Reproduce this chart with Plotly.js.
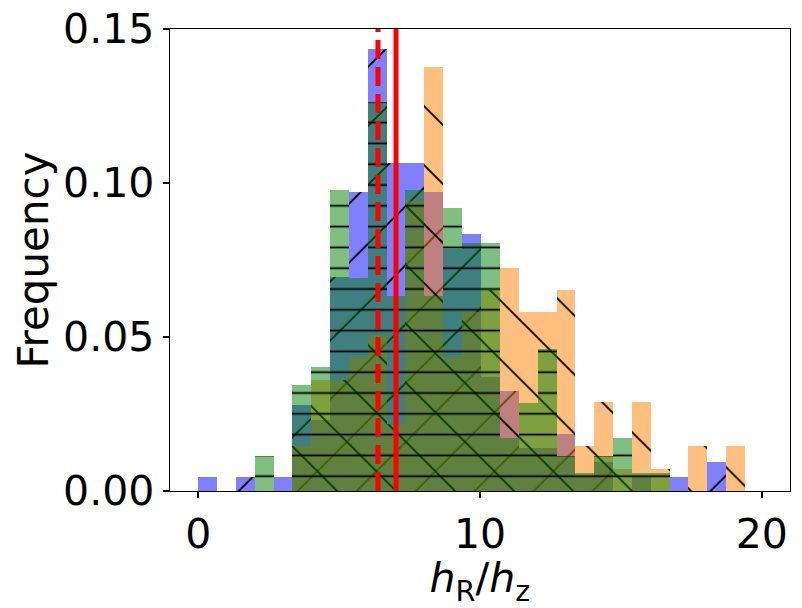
<!DOCTYPE html>
<html>
<head>
<meta charset="utf-8">
<script src="https://cdn.plot.ly/plotly-3.0.1.min.js"></script>
<style>
  html, body { margin: 0; padding: 0; background: #fff; }
  #chart { width: 802px; height: 608px; }
</style>
</head>
<body>
<div id="chart"></div>
<script>
// histogram bins (centres), shared by the three samples
const binCenters = [0.33, 1.00, 1.67, 2.34, 3.01, 3.68, 4.35, 5.02, 5.69, 6.36,
                    7.02, 7.69, 8.36, 9.03, 9.70, 10.37, 11.04, 11.71, 12.38, 13.05,
                    13.71, 14.38, 15.05, 15.72, 16.39, 17.06, 17.73, 18.40, 19.07];
const binWidth = 0.669;

// frequencies
const freqBlue   = [0.0046, 0, 0.0046, 0, 0.0046, 0.0278, 0.0231, 0.0694, 0.0972, 0.1435,
                    0.1065, 0.1065, 0.0972, 0.0787, 0.0833, 0.0370, 0.0324, 0.0139, 0.0139, 0.0185,
                    0.0046, 0.0093, 0, 0.0046, 0, 0.0046, 0, 0.0093, 0];
const freqOrange = [0, 0, 0, 0, 0, 0.0145, 0.0362, 0.0362, 0.0435, 0.0507,
                    0.0217, 0.0942, 0.1377, 0.0435, 0.0580, 0.0652, 0.0725, 0.0580, 0.0580, 0.0652,
                    0.0145, 0.0290, 0.0072, 0.0290, 0.0072, 0, 0.0145, 0, 0.0145];
const freqGreen  = [0, 0, 0, 0.0115, 0, 0.0345, 0.0402, 0.0977, 0.0690, 0.1264,
                    0.0632, 0.0977, 0.0632, 0.0920, 0.0805, 0.0805, 0.0172, 0.0287, 0.0460, 0.0115,
                    0.0057, 0.0115, 0.0172, 0.0057, 0.0057, 0, 0, 0, 0];

// reference values marked by the red lines
const medianDashed = 6.38;
const medianSolid = 7.02;

const font = 'DejaVu Sans, sans-serif';

function histTrace(y, rgba, shape, size, solidity) {
  return {
    type: 'bar', x: binCenters, y: y, width: binWidth,
    marker: {
      color: rgba,
      line: {width: 0},
      pattern: {shape: shape, size: size, solidity: solidity, fillmode: 'overlay',
                bgcolor: rgba, fgcolor: '#000', fgopacity: 1}
    },
    hoverinfo: 'x+y', showlegend: false
  };
}

const traces = [
  histTrace(freqBlue, 'rgba(0,0,255,0.5)', '/', 41.7, 0.045),
  histTrace(freqOrange, 'rgba(255,130,0,0.5)', '\\', 41.7, 0.045),
  histTrace(freqGreen, 'rgba(0,128,0,0.5)', '-', 20.8, 0.085)
];

const axisCommon = {
  showgrid: false, zeroline: false,
  showline: true, linecolor: '#000', linewidth: 1.4, mirror: true,
  ticks: 'outside', ticklen: 6, tickwidth: 1.4, tickcolor: '#000',
  tickfont: {family: font, size: 41, color: '#000'}
};

const layout = {
  width: 802, height: 608,
  margin: {l: 170, r: 12, t: 29, b: 117},
  paper_bgcolor: '#fff', plot_bgcolor: '#fff',
  barmode: 'overlay', bargap: 0,
  xaxis: Object.assign({}, axisCommon, {
    range: [-1, 21], tickvals: [0, 10, 20],
    title: {text: '<i>h</i><sub>R</sub>/<i>h</i><sub>z</sub>', font: {family: font, size: 41, color: '#000'}, standoff: 10}
  }),
  yaxis: Object.assign({}, axisCommon, {
    range: [0, 0.15], tickvals: [0, 0.05, 0.10, 0.15], tickformat: '.2f',
    title: {text: 'Frequency', font: {family: font, size: 42, color: '#000'}, standoff: 1}
  }),
  shapes: [
    {type: 'line', xref: 'x', yref: 'paper', x0: medianDashed, x1: medianDashed, y0: 0, y1: 1,
     line: {color: 'red', width: 5, dash: '19px,8px'}, layer: 'above'},
    {type: 'line', xref: 'x', yref: 'paper', x0: medianSolid, x1: medianSolid, y0: 0, y1: 1,
     line: {color: 'red', width: 5}, layer: 'above'}
  ]
};

Plotly.newPlot('chart', traces, layout, {displayModeBar: false, staticPlot: true});
</script>
</body>
</html>
